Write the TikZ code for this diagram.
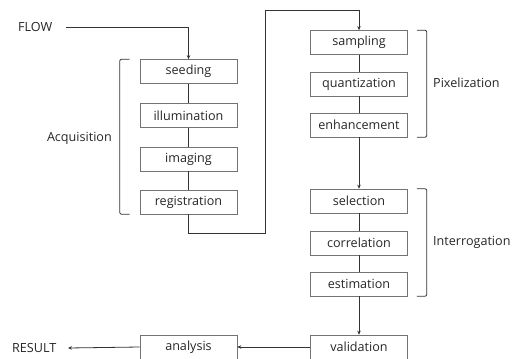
\documentclass[tikz,border=0pt]{standalone}
\usepackage{fontspec}
\setmainfont{Open Sans}
\usetikzlibrary{arrows.meta}

\begin{document}
\begin{tikzpicture}[x=1pt, y=-1pt,
    stage/.style={draw=black!55, line width=0.6pt, minimum width=97pt, minimum height=24pt, inner sep=0pt, font=\fontsize{12.6}{13}\selectfont, text=black!85},
    tag/.style={font=\fontsize{12.6}{13}\selectfont, text=black!85, inner sep=0pt},
    flowline/.style={draw=black!80, line width=0.8pt},
    arrowline/.style={flowline, -{Stealth[length=4pt, width=3.5pt]}},
    brace/.style={draw=black!80, line width=0.8pt, rounded corners=2pt}]
    \clip (0,0) rectangle (520,359);
    \useasboundingbox (0,0) rectangle (520,359);

    % Define the points of the loop
    \coordinate (loopA) at (265,233);
    \coordinate (loopB) at (265,10);

    % Draw the acquisition stages
    \node[stage] (seeding) at (188.5,71.5) {seeding};
    \node[stage] (illumination) at (188.5,115.5) {illumination};
    \node[stage] (imaging) at (188.5,159) {imaging};
    \node[stage] (registration) at (188.5,202) {registration};

    % Draw the pixelization stages
    \node[stage] (sampling) at (359,42.5) {sampling};
    \node[stage] (quantization) at (359,84) {quantization};
    \node[stage] (enhancement) at (359,125) {enhancement};

    % Draw the interrogation stages
    \node[stage] (selection) at (359,201) {selection};
    \node[stage] (correlation) at (359,243) {correlation};
    \node[stage] (estimation) at (359,284) {estimation};

    % Draw the output stages
    \node[stage] (validation) at (359,347) {validation};
    \node[stage] (analysis) at (188.5,347) {analysis};

    % Place the labels
    \node[tag, anchor=west] (flow) at (18,27) {FLOW};
    \node[tag, anchor=west] (result) at (12,348) {RESULT};
    \node[tag, anchor=east] (acquisition) at (112,138) {Acquisition};
    \node[tag, anchor=west] (pixelization) at (433,83) {Pixelization};
    \node[tag, anchor=west] (interrogation) at (433,242) {Interrogation};

    % Draw the connectors
    \draw[arrowline] (66,27) -| (seeding.north);
    \draw[flowline] (seeding) -- (illumination);
    \draw[flowline] (illumination) -- (imaging);
    \draw[flowline] (imaging) -- (registration);
    \draw[arrowline] (registration.south) |- (loopA) -- (loopB) -| (sampling.north);
    \draw[flowline] (sampling) -- (quantization);
    \draw[flowline] (quantization) -- (enhancement);
    \draw[arrowline] (enhancement) -- (selection);
    \draw[flowline] (selection) -- (correlation);
    \draw[flowline] (correlation) -- (estimation);
    \draw[arrowline] (estimation) -- (validation);
    \draw[arrowline] (validation) -- (analysis);
    \draw[arrowline] (analysis.west) -- (68,348);

    % Draw the brackets
    \draw[brace] ([xshift=-10pt]seeding.north west) -- ++(-10,0) |- ([xshift=-10pt]registration.south west);
    \draw[brace] ([xshift=9pt]sampling.north east) -- ++(10,0) |- ([xshift=9pt]enhancement.south east);
    \draw[brace] ([xshift=9pt]selection.north east) -- ++(10,0) |- ([xshift=9pt]estimation.south east);

\end{tikzpicture}
\end{document}
